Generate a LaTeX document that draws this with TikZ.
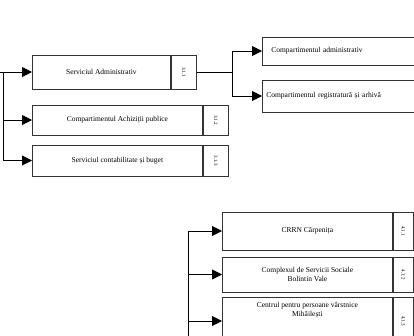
\documentclass[tikz,border=0pt]{standalone}
\usepackage{fontspec}
\setmainfont{Liberation Serif}
\usetikzlibrary{arrows.meta,positioning}

\tikzset{
  unitbox/.style={draw=black!80, line width=0.8pt, inner sep=1pt, align=center,
    font=\fontsize{7.5}{9}\selectfont, anchor=west},
  codecell/.style={draw=black!80, line width=0.8pt, inner sep=0pt, anchor=west,
    font=\fontsize{5}{6}\selectfont},
  feed/.style={line width=0.9pt, -{Triangle[length=10pt,width=10pt]}},
  wire/.style={line width=0.9pt}
}

\begin{document}
\begin{tikzpicture}[x=1pt, y=-1pt]
  \useasboundingbox (0,0) rectangle (414,335);
  \clip (0,0) rectangle (414,335);

  % first level
  \node[unitbox, minimum width=138pt, minimum height=34pt] (serv) at (32,72) {Serviciul Administrativ};
  \node[codecell, minimum width=25pt, minimum height=34pt, right=0pt of serv] (servnr) {\rotatebox{-90}{3.1.1}};
  \node[unitbox, minimum width=170pt, minimum height=30pt] (achiz) at (32,120) {Compartimentul Achiziții publice};
  \node[codecell, minimum width=25pt, minimum height=30pt, right=0pt of achiz] (achiznr) {\rotatebox{-90}{3.1.2}};
  \node[unitbox, minimum width=170pt, minimum height=31pt] (contab) at (32,160.5) {Serviciul contabilitate și buget};
  \node[codecell, minimum width=25pt, minimum height=31pt, right=0pt of contab] (contabnr) {\rotatebox{-90}{3.1.3}};

  \coordinate (left) at (0,72);
  \coordinate (lefttop) at (3,72);
  \draw[wire] (left) -- (lefttop);
  \draw[feed] (lefttop) -- (serv.west);
  \draw[feed] (lefttop |- achiz.west) -- (achiz.west);
  \draw[feed] (lefttop |- contab.west) -- (contab.west);
  \draw[wire] (lefttop) -- (lefttop |- contab.west);

  % second level
  \node[unitbox, minimum width=168pt, minimum height=28pt, text width=150pt, align=left] (admin) at (262,51) {Compartimentul administrativ};
  \node[unitbox, minimum width=168pt, minimum height=32pt, text width=160pt, align=left] (regist) at (262,96) {Compartimentul registratură și arhivă};

  \coordinate (split) at (232,72);
  \draw[wire] (servnr.east) -- (split);
  \draw[wire] (split |- admin.west) -- (split |- regist.west);
  \draw[feed] (split |- admin.west) -- (admin.west);
  \draw[feed] (split |- regist.west) -- (regist.west);

  % centres
  \node[unitbox, minimum width=170pt, minimum height=38pt] (crrn) at (222,231) {CRRN Cărpenița};
  \node[codecell, minimum width=20pt, minimum height=38pt, right=0pt of crrn] (crrnnr) {\rotatebox{-90}{4.1.1}};
  \node[unitbox, minimum width=170pt, minimum height=35pt] (complex) at (222,274.5) {Complexul de Servicii Sociale\\Bolintin Vale};
  \node[codecell, minimum width=20pt, minimum height=35pt, right=0pt of complex] (complexnr) {\rotatebox{-90}{4.1.2}};
  \node[unitbox, minimum width=170pt, minimum height=48pt] (centru) at (222,321) {Centrul pentru persoane vârstnice\\Mihăilești\\[14pt]};
  \node[codecell, minimum width=20pt, minimum height=48pt, right=0pt of centru] (centrunr) {\rotatebox{-90}{4.1.3}};

  \coordinate (trunk) at (188,231);
  \coordinate (trunkend) at (188,340);
  \draw[wire] (trunk) -- (trunkend);
  \draw[feed] (trunk) -- (crrn.west);
  \draw[feed] (trunk |- complex.west) -- (complex.west);
  \draw[feed] (trunk |- centru.west) -- (centru.west);
\end{tikzpicture}
\end{document}
